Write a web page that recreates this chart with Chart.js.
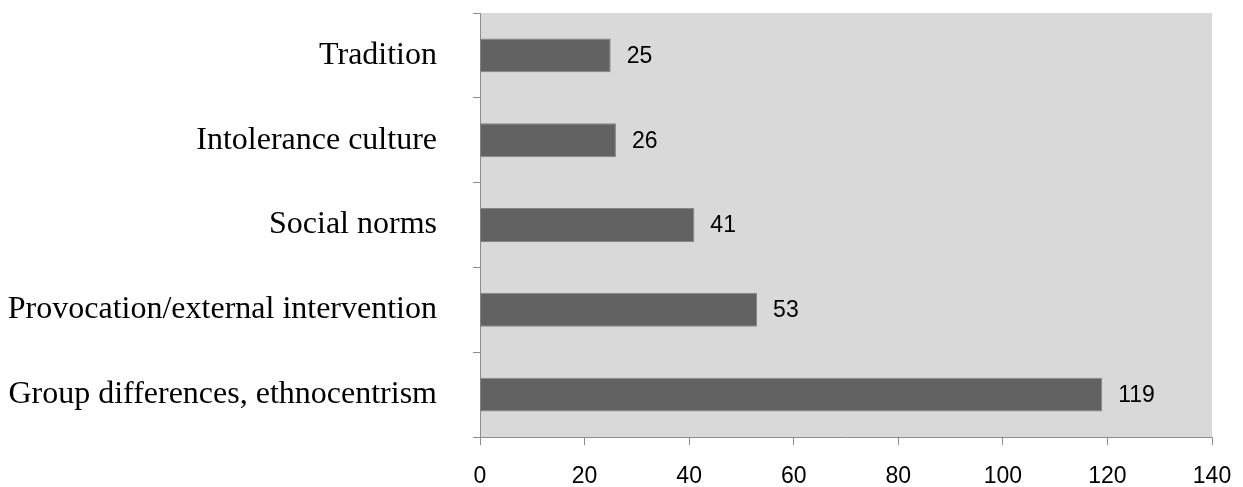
<!DOCTYPE html>
<html>
<head>
<meta charset="utf-8">
<script src="https://cdn.jsdelivr.net/npm/chart.js@4.4.1/dist/chart.umd.min.js"></script>
<style>
    html, body { margin: 0; padding: 0; background: #ffffff; }
    #wrap { width: 1243px; height: 487px; }
</style>
</head>
<body>
<div id="wrap"><canvas id="bar-chart"></canvas></div>
<script>
// data
let categories = ['Tradition', 'Intolerance culture', 'Social norms', 'Provocation/external intervention', 'Group differences, ethnocentrism'];
let counts = [25, 26, 41, 53, 119];
let xTicks = [0, 20, 40, 60, 80, 100, 120, 140];

// grey plot background
let plotBackground = {
    id: 'plotBackground',
    beforeDraw: (chart) => {
        let ctx = chart.ctx;
        let a = chart.chartArea;
        ctx.save();
        ctx.fillStyle = '#d9d9d9';
        ctx.fillRect(a.left, a.top, a.right - a.left, a.bottom - a.top);
        ctx.restore();
    }
};

// value labels to the right of each bar
let valueLabels = {
    id: 'valueLabels',
    afterDatasetsDraw: (chart) => {
        let ctx = chart.ctx;
        let meta = chart.getDatasetMeta(0);
        ctx.save();
        ctx.font = '23px "Liberation Sans", Arial, sans-serif';
        ctx.fillStyle = '#000000';
        ctx.textAlign = 'left';
        ctx.textBaseline = 'middle';
        meta.data.forEach((bar, i) => {
            ctx.fillText(String(counts[i]), bar.x + 16, bar.y + 1);
        });
        ctx.restore();
    }
};

let chart = new Chart(document.getElementById('bar-chart').getContext('2d'), {
    type: 'bar',
    data: {
        labels: categories,
        datasets: [{
            data: counts,
            backgroundColor: '#626262',
            borderColor: '#858585',
            borderWidth: 1,
            categoryPercentage: 0.4,
            barPercentage: 1.0
        }]
    },
    options: {
        indexAxis: 'y',
        responsive: true,
        maintainAspectRatio: false,
        animation: false,
        layout: {
            padding: { top: 13, right: 31, left: 0, bottom: 0 }
        },
        plugins: {
            legend: { display: false },
            title: { display: false },
            tooltip: { enabled: false }
        },
        scales: {
            x: {
                min: 0,
                max: 140,
                afterBuildTicks: (scale) => {
                    scale.ticks = xTicks.map(v => ({ value: v }));
                },
                afterFit: (scale) => {
                    scale.height = 50;
                    scale.paddingLeft = 0;
                    scale.paddingRight = 0;
                },
                border: { display: true, color: '#8c8c8c', width: 1 },
                grid: {
                    drawOnChartArea: false,
                    drawTicks: true,
                    tickLength: 8,
                    color: '#8c8c8c'
                },
                ticks: {
                    padding: 18,
                    color: '#000000',
                    font: { family: '"Liberation Sans", Arial, sans-serif', size: 23 }
                }
            },
            y: {
                afterFit: (scale) => {
                    scale.width = 480;
                    scale.paddingTop = 0;
                    scale.paddingBottom = 0;
                },
                border: { display: true, color: '#8c8c8c', width: 1 },
                grid: {
                    offset: true,
                    drawOnChartArea: false,
                    drawTicks: true,
                    tickLength: 7,
                    color: '#8c8c8c'
                },
                ticks: {
                    padding: 36,
                    color: '#000000',
                    font: { family: '"Liberation Serif", "Times New Roman", serif', size: 32 }
                }
            }
        }
    },
    plugins: [plotBackground, valueLabels]
});
</script>
</body>
</html>
